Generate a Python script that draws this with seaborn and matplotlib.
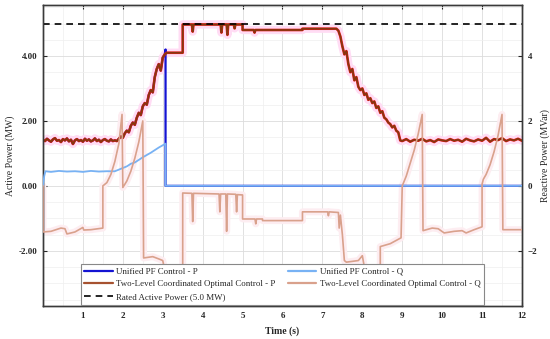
import seaborn as sns
import matplotlib.pyplot as plt
import numpy as np
from matplotlib.lines import Line2D
from matplotlib.ticker import FormatStrFormatter, MultipleLocator

# ---- data (time in s, values in MW / MVar) ----
# Two-level coordinated control, active power
p_two_level = [
    (0.00, 1.42), (0.05, 1.38), (0.10, 1.45), (0.15, 1.40), (0.20, 1.36), (0.25, 1.43),
    (0.30, 1.47), (0.35, 1.39), (0.40, 1.41), (0.45, 1.35), (0.50, 1.44), (0.55, 1.40),
    (0.60, 1.46), (0.65, 1.37), (0.70, 1.42), (0.75, 1.29), (0.80, 1.40), (0.85, 1.44),
    (0.90, 1.38), (0.95, 1.41), (1.00, 1.36), (1.05, 1.45), (1.10, 1.39), (1.15, 1.43),
    (1.20, 1.37), (1.25, 1.40), (1.30, 1.46), (1.35, 1.38), (1.40, 1.42), (1.45, 1.35),
    (1.50, 1.41), (1.55, 1.44), (1.60, 1.39), (1.65, 1.37), (1.70, 1.43), (1.75, 1.38),
    (1.80, 1.40), (1.85, 1.38), (1.90, 1.45), (1.95, 1.52), (2.00, 1.48), (2.05, 1.62),
    (2.10, 1.70), (2.15, 1.65), (2.20, 1.85), (2.25, 1.95), (2.30, 1.88), (2.35, 2.10),
    (2.40, 2.25), (2.45, 2.18), (2.50, 2.45), (2.55, 2.55), (2.60, 2.50), (2.65, 2.80),
    (2.70, 2.95), (2.75, 2.88), (2.80, 3.35), (2.85, 3.60), (2.90, 3.75), (2.95, 3.55),
    (3.00, 3.95), (3.05, 4.05), (3.10, 4.10), (3.50, 4.10), (3.50, 4.97), (3.73, 4.97),
    (3.75, 4.75), (3.77, 4.97), (4.45, 4.97), (4.47, 4.72), (4.49, 4.97), (4.60, 4.97),
    (4.62, 4.65), (4.64, 4.97), (4.78, 4.97), (4.80, 4.85), (4.82, 4.97), (5.00, 4.97),
    (5.00, 4.80), (5.28, 4.80), (5.30, 4.72), (5.32, 4.80), (6.50, 4.80), (6.50, 4.84),
    (7.35, 4.84), (7.40, 4.78), (7.45, 4.60), (7.50, 4.30), (7.55, 4.05), (7.60, 4.15),
    (7.65, 3.75), (7.70, 3.50), (7.75, 3.60), (7.80, 3.25), (7.85, 3.35), (7.90, 3.05),
    (7.95, 2.95), (8.00, 3.00), (8.05, 2.80), (8.10, 2.85), (8.15, 2.65), (8.20, 2.70),
    (8.25, 2.55), (8.30, 2.60), (8.35, 2.40), (8.40, 2.45), (8.45, 2.25), (8.50, 2.30),
    (8.55, 2.10), (8.60, 2.05), (8.65, 1.95), (8.70, 1.90), (8.75, 1.80), (8.80, 1.85),
    (8.85, 1.70), (8.90, 1.65), (8.95, 1.40), (9.00, 1.38), (9.10, 1.44), (9.20, 1.36),
    (9.30, 1.42), (9.40, 1.39), (9.50, 1.45), (9.60, 1.37), (9.70, 1.41), (9.80, 1.35),
    (9.90, 1.43), (10.00, 1.40), (10.10, 1.38), (10.20, 1.44), (10.30, 1.39), (10.40, 1.42),
    (10.50, 1.36), (10.60, 1.45), (10.70, 1.40), (10.80, 1.37), (10.90, 1.43), (11.00, 1.39),
    (11.10, 1.48), (11.20, 1.36), (11.30, 1.44), (11.40, 1.41), (11.50, 1.47), (11.60, 1.38),
    (11.70, 1.43), (11.80, 1.40), (11.90, 1.45), (12.00, 1.39),
]

# Unified PF control, active power: same as above until the trip at ~3.07 s
p_unified_after_trip = [(3.07, 4.20), (3.07, 0.0), (12.00, 0.0)]

# Unified PF control, reactive power
q_unified = [
    (0.00, 0.00), (0.03, 0.30), (0.06, 0.45), (0.20, 0.43), (0.40, 0.46), (0.60, 0.44),
    (0.80, 0.45), (1.00, 0.43), (1.20, 0.46), (1.40, 0.44), (1.60, 0.45), (1.80, 0.45),
    (1.90, 0.50), (2.00, 0.55), (2.10, 0.60), (2.20, 0.68), (2.30, 0.72), (2.40, 0.80),
    (2.50, 0.88), (2.60, 0.95), (2.70, 1.02), (2.80, 1.10), (2.90, 1.18), (3.00, 1.25),
    (3.07, 1.30), (3.07, 0.00), (12.00, 0.00),
]

# Two-level coordinated control, reactive power
q_two_level = [
    (0.00, 0.00), (0.00, -1.42), (0.20, -1.40), (0.45, -1.30), (0.55, -1.32), (0.60, -1.48),
    (0.80, -1.42), (1.00, -1.28), (1.02, -1.36), (1.20, -1.35), (1.50, -1.30), (1.50, 0.00),
    (1.60, 0.10), (1.70, 0.35), (1.80, 0.75), (1.90, 1.30), (1.98, 2.20), (2.00, -0.05),
    (2.10, 0.15), (2.20, 0.45), (2.30, 0.85), (2.40, 1.35), (2.50, 2.00), (2.52, -2.22),
    (2.75, -2.18), (2.90, -2.25), (3.00, -2.30), (3.05, -2.60), (3.50, -2.60), (3.50, -0.22),
    (3.73, -0.23), (3.75, -1.10), (3.77, -0.23), (4.41, -0.25), (4.43, -0.80), (4.45, -0.25),
    (4.58, -0.25), (4.60, -1.40), (4.62, -0.25), (4.83, -0.26), (4.85, -0.80), (4.87, -0.27),
    (5.00, -0.28), (5.00, -1.02), (5.31, -1.02), (5.33, -1.17), (5.35, -1.02), (5.50, -1.02),
    (5.50, -1.07), (6.50, -1.07), (6.50, -0.80), (7.13, -0.80), (7.15, -0.92), (7.17, -0.80),
    (7.40, -0.82), (7.42, -1.30), (7.45, -0.90), (7.50, -1.50), (7.55, -2.30), (7.60, -2.35),
    (7.90, -2.30), (8.00, -2.15), (8.05, -2.50), (8.45, -2.60), (8.45, -1.87), (8.70, -1.78),
    (8.97, -1.60), (9.00, 0.00), (9.10, 0.30), (9.20, 0.70), (9.30, 1.10), (9.40, 1.60),
    (9.50, 2.20), (9.52, -1.38), (9.75, -1.30), (9.90, -1.32), (10.05, -1.45), (10.30, -1.40),
    (10.50, -1.38), (10.60, -1.45), (10.80, -1.35), (11.00, -1.26), (11.00, 0.05), (11.03, 0.20),
    (11.10, 0.35), (11.20, 0.65), (11.30, 1.05), (11.40, 1.55), (11.50, 2.20), (11.52, -1.35),
    (12.00, -1.35),
]

rated_power = 5.0
x_ticks = list(range(1, 13))
y_ticks = [-2, 0, 2, 4]

labels = [
    "Unified PF Control - P",
    "Two-Level Coordinated Optimal Control - P",
    "Rated Active Power (5.0 MW)",
    "Unified PF Control - Q",
    "Two-Level Coordinated Optimal Control - Q",
]


def split(pairs):
    t, v = zip(*pairs)
    return np.array(t), np.array(v)


t_p2, v_p2 = split(p_two_level)
pre = t_p2 < 3.07
t_pu = np.concatenate([t_p2[pre], [p[0] for p in p_unified_after_trip]])
v_pu = np.concatenate([v_p2[pre], [p[1] for p in p_unified_after_trip]])
t_qu, v_qu = split(q_unified)
t_q2, v_q2 = split(q_two_level)

# ---- style ----
sns.set_style("white")
plt.rcParams["font.family"] = ["Liberation Serif", "DejaVu Serif"]

c_dark_blue = "#1414d2"
c_light_blue = "#78b2f4"
c_red = "#e51a1a"
c_brown = "#84380f"
c_brown_leg = "#a65230"
c_salmon = "#d9a18c"

fig = plt.figure(figsize=(5.5, 3.39), dpi=100)
ax = fig.add_axes([43 / 550, 1 - 306 / 339, 479 / 550, 301 / 339])
ax2 = ax.twinx()

line_kw = dict(estimator=None, sort=False, legend=False)

# soft halos behind the traces
sns.lineplot(x=t_p2, y=v_p2, ax=ax, color="#ffdcf4", linewidth=6, zorder=1, **line_kw)
sns.lineplot(x=t_q2, y=v_q2, ax=ax, color="#fdedf1", linewidth=5, zorder=1, **line_kw)

# active power (left axis)
sns.lineplot(x=t_pu, y=v_pu, ax=ax, color=c_dark_blue, linewidth=1.6, zorder=3, **line_kw)
sns.lineplot(x=t_p2, y=v_p2, ax=ax, color=c_red, linewidth=1.9, zorder=4, **line_kw)
sns.lineplot(x=t_p2, y=v_p2, ax=ax, color=c_brown, linewidth=1.2, zorder=5, **line_kw)
ax.axhline(rated_power, color="black", lw=1.2, ls=(0, (4, 3)), zorder=6)

# reactive power (right axis)
sns.lineplot(x=t_qu, y=v_qu, ax=ax2, color=c_light_blue, linewidth=1.3, zorder=3, **line_kw)
sns.lineplot(x=t_q2, y=v_q2, ax=ax2, color=c_salmon, linewidth=1.2, zorder=4, **line_kw)

ylim = (-3.7, 5.57)
for a in (ax, ax2):
    a.set_xlim(0, 12)
    a.set_ylim(*ylim)
    a.set_yticks(y_ticks)
    for s in a.spines.values():
        s.set_color("#3a3a3a")
        s.set_linewidth(1.0)

ax.set_xticks(x_ticks)
ax.xaxis.set_minor_locator(MultipleLocator(0.5))
ax.yaxis.set_minor_locator(MultipleLocator(0.5))
ax.yaxis.set_major_formatter(FormatStrFormatter("%.2f"))
ax.grid(which="major", color="#dcdcdc", lw=0.6)
ax.grid(which="minor", color="#efefef", lw=0.5)
ax.set_axisbelow(True)

ax.tick_params(axis="both", which="major", direction="in", length=3, labelsize=6.5,
               top=True, bottom=True, left=True, right=False, pad=4)
ax.tick_params(axis="both", which="minor", length=0)
ax2.tick_params(axis="y", direction="in", length=3, labelsize=6.5, pad=4)
for lab in ax.get_xticklabels() + ax.get_yticklabels() + ax2.get_yticklabels():
    lab.set_fontweight("bold")

ax.set_xlabel("Time (s)", fontsize=7, fontweight="bold", labelpad=5)
ax.set_ylabel("Active Power (MW)", fontsize=7, labelpad=3)
ax2.set_ylabel("Reactive Power (MVar)", fontsize=7, labelpad=2)

handles = [
    Line2D([], [], color=c_dark_blue, lw=1.6),
    Line2D([], [], color=c_brown_leg, lw=1.6),
    Line2D([], [], color="black", lw=1.2, ls=(0, (4, 3))),
    Line2D([], [], color=c_light_blue, lw=1.6),
    Line2D([], [], color=c_salmon, lw=1.6),
]
leg = ax2.legend(handles, labels, ncol=2, loc="lower center", fontsize=6.4,
                 frameon=True, fancybox=False, framealpha=1, edgecolor="#888888",
                 borderaxespad=0.15, handlelength=3.2, handletextpad=0.4,
                 columnspacing=1.4, labelspacing=0.5, borderpad=0.4)
leg.get_frame().set_linewidth(0.8)

fig.savefig("out.png", dpi=100)
plt.close(fig)
